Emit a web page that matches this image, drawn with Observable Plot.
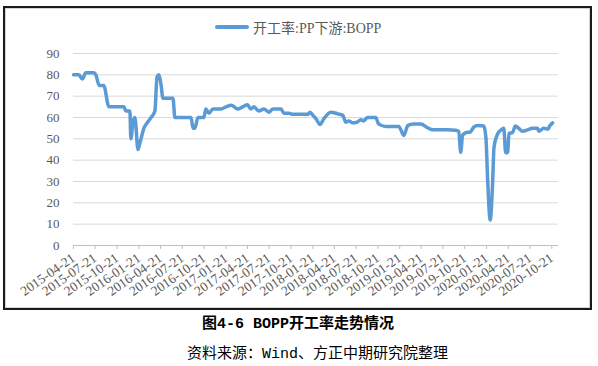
<!DOCTYPE html>
<html><head><meta charset="utf-8">
<script src="https://cdn.jsdelivr.net/npm/d3@7"></script>
<script src="https://cdn.jsdelivr.net/npm/@observablehq/plot@0.6"></script>
<style>
body{margin:0;background:#fff;width:598px;height:366px;position:relative;overflow:hidden;font-family:"Liberation Serif","Noto Sans CJK SC",serif;}
#frame{position:absolute;left:3px;top:6px;width:589px;height:304px;box-sizing:border-box;border:2px solid #1a1a1a;box-shadow:inset 0 0 0 1px #d4d4d4;}
#chart{position:absolute;left:0;top:0;}
#legend{position:absolute;left:210px;top:9px;display:flex;align-items:center;font-size:14px;color:#595959;font-family:"Liberation Serif","Noto Sans CJK SC",serif;white-space:nowrap;}
#legend .sw{width:34px;height:4px;background:#5B9BD5;margin-right:4px;border-radius:2px;}
#title{position:absolute;left:202px;top:315px;font-size:15px;font-weight:bold;color:#000;font-family:"Liberation Mono","Noto Sans CJK SC",monospace;white-space:nowrap;line-height:20px;}
#source{position:absolute;left:187px;top:342px;font-size:15px;color:#000;font-family:"Noto Sans CJK SC",sans-serif;white-space:nowrap;line-height:20px;}
#source .m{font-family:"Liberation Mono",monospace;}
</style>
</head><body>
<div id="frame">
  <div id="chart"></div>
  <div id="legend"><div class="sw"></div><span>开工率:PP下游:BOPP</span></div>
</div>
<div id="title">图4-6 BOPP开工率走势情况</div>
<div id="source">资料来源：<span class="m">Wind</span>、方正中期研究院整理</div>
<script>
const seriesName = "开工率:PP下游:BOPP";
const dates = [
"2015-04-21","2015-05-13","2015-05-28","2015-06-12","2015-07-15","2015-07-24","2015-08-07","2015-08-26","2015-09-17","2015-11-19",
"2015-11-27","2015-12-14","2015-12-18","2015-12-27","2016-01-04","2016-01-17","2016-01-25","2016-02-11","2016-02-28","2016-03-12",
"2016-03-28","2016-04-06","2016-04-14","2016-04-22","2016-05-01","2016-06-12","2016-06-20","2016-08-27","2016-09-04","2016-09-12",
"2016-09-25","2016-10-20","2016-10-28","2016-11-10","2016-11-27","2016-12-31","2017-01-21","2017-02-12","2017-03-11","2017-04-01",
"2017-04-21","2017-05-05","2017-05-18","2017-06-08","2017-06-29","2017-07-20","2017-08-06","2017-09-09","2017-09-21","2017-10-12",
"2017-10-29","2017-12-31","2018-01-09","2018-01-21","2018-02-03","2018-02-20","2018-03-08","2018-04-06","2018-05-06","2018-05-27",
"2018-06-08","2018-06-21","2018-07-07","2018-07-28","2018-08-10","2018-08-22","2018-09-08","2018-10-12","2018-10-24","2018-11-23",
"2019-01-17","2019-02-07","2019-02-24","2019-03-21","2019-04-19","2019-05-18","2019-06-08","2019-08-10","2019-09-13","2019-09-26",
"2019-10-04","2019-10-12","2019-10-24","2019-11-14","2019-11-28","2019-12-15","2020-01-09","2020-01-18","2020-01-26","2020-02-05",
"2020-02-15","2020-02-21","2020-03-08","2020-03-20","2020-04-02","2020-04-10","2020-04-18","2020-04-24","2020-05-09","2020-05-21",
"2020-06-03","2020-06-20","2020-07-11","2020-08-01","2020-08-22","2020-08-27","2020-09-17","2020-10-05","2020-10-12","2020-10-24"
];
const rates = [
80,80,78,81,81,80,75,75,65,65,
63,63,50,58,60,45,48,55,58,60,
63,79,80,76,69,69,60,60,55,55,
60,60,64,62,64,64,65,65.7,64,65,
66,64,65,63,64,62.5,64,64,62,62,
61.5,61.5,62.5,61,59.4,56.7,59.4,62.5,61.7,61,
57.8,58.4,57.5,58,59,58.4,60,60,57,55.8,
55.8,51.6,56.3,57,57,55.2,54.2,54.2,54,53.5,
43.7,51.6,52.8,53.3,55.5,56.3,56,50.5,29,12,
29,46,52.5,54,55,43.5,43.5,52.5,53,56,
55,53.5,54.2,55,55,53.5,55,54.5,56,57.5
];
const xTickLabels = ["2015-04-21","2015-07-21","2015-10-21","2016-01-21","2016-04-21","2016-07-21","2016-10-21","2017-01-21","2017-04-21","2017-07-21","2017-10-21","2018-01-21","2018-04-21","2018-07-21","2018-10-21","2019-01-21","2019-04-21","2019-07-21","2019-10-21","2020-01-21","2020-04-21","2020-07-21","2020-10-21"];
const yTicks = [0,10,20,30,40,50,60,70,80,90];

const data = dates.map((d,i)=>({date:new Date(d), value:rates[i]}));
const xTicks = xTickLabels.map(d=>new Date(d));
const fmt = d3.utcFormat("%Y-%m-%d");

const chart = Plot.plot({
  width:585, height:300,
  marginTop:45, marginBottom:63, marginLeft:68, marginRight:32,
  style:{fontFamily:'"Liberation Serif", serif', fontSize:"12px", color:"#595959", background:"transparent"},
  x:{type:"utc", domain:[new Date("2015-04-21"), new Date("2020-11-18")]},
  y:{domain:[0,90]},
  marks:[
    Plot.ruleY(yTicks.filter(v=>v>0), {stroke:"#d9d9d9", strokeWidth:1}),
    Plot.ruleY([0], {stroke:"#bfbfbf", strokeWidth:1}),
    Plot.axisX({ticks:xTicks, tickFormat:fmt, tickRotate:-35, tickSize:4, tickPadding:7, stroke:"#bfbfbf", fill:"#595959", fontSize:13.5, label:null}),
    Plot.axisY({ticks:yTicks, tickSize:0, tickPadding:14, fill:"#595959", fontSize:13, label:null}),
    Plot.lineY(data, {x:"date", y:"value", stroke:"#5B9BD5", strokeWidth:3.5, curve:"monotone-x", strokeLinejoin:"round", strokeLinecap:"round"})
  ]
});
document.getElementById("chart").appendChild(chart);
</script>
</body></html>
